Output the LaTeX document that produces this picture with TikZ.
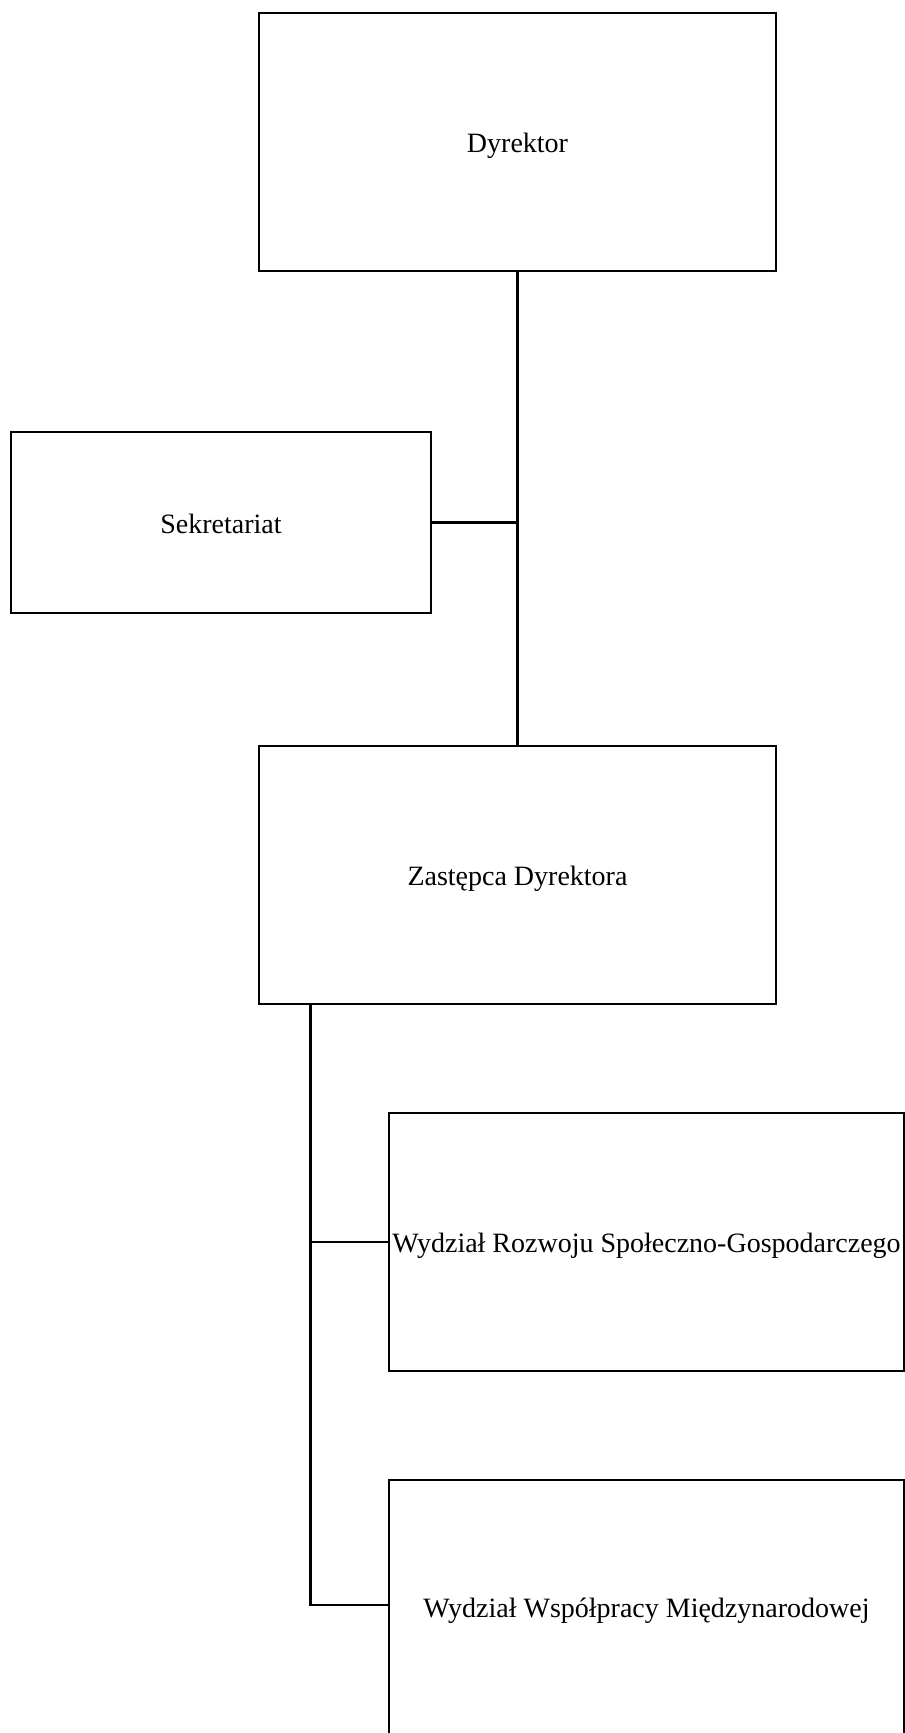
\documentclass[tikz,border=0pt]{standalone}
\usepackage{fontspec}
\setmainfont{Liberation Serif}
\begin{document}
\begin{tikzpicture}[x=1pt,y=-1pt,
  box/.style={draw=black,line width=2.7pt,rectangle,inner sep=0pt,fill=white,
    text height=21pt,text depth=0pt,
    font=\fontsize{28.0}{33}\selectfont},
  conn/.style={draw=black,line width=2.7pt}]
\useasboundingbox (0,0) rectangle (905,1733);
\fill[white] (0,0) rectangle (905,1733);
\clip (0,0) rectangle (905,1733);
\node[box,minimum width=517pt,minimum height=258pt] (dyr) at (517.5,142) {\makebox[0pt]{Dyrektor}};
\node[box,minimum width=420pt,minimum height=181pt] (sek) at (221,522.5) {\makebox[0pt]{Sekretariat}};
\node[box,minimum width=517pt,minimum height=258pt] (zas) at (517.5,875) {\makebox[0pt]{Zastępca Dyrektora}};
\node[box,minimum width=515pt,minimum height=258pt] (w1) at (646.5,1242) {\makebox[0pt]{Wydział Rozwoju Społeczno-Gospodarczego}};
\node[box,minimum width=515pt,minimum height=260pt,text height=15pt] (w2) at (646.5,1610) {\makebox[0pt]{Wydział Współpracy Międzynarodowej}};
\draw[conn] (dyr.south) -- (zas.north);
\draw[conn] (sek.east) -- (sek.east -| dyr.south);
\coordinate (j) at ([xshift=53pt]zas.south west);
\draw[conn] (j) |- (w1.west);
\draw[conn] (j) |- ([yshift=5pt]w2.west);
\end{tikzpicture}
\end{document}
